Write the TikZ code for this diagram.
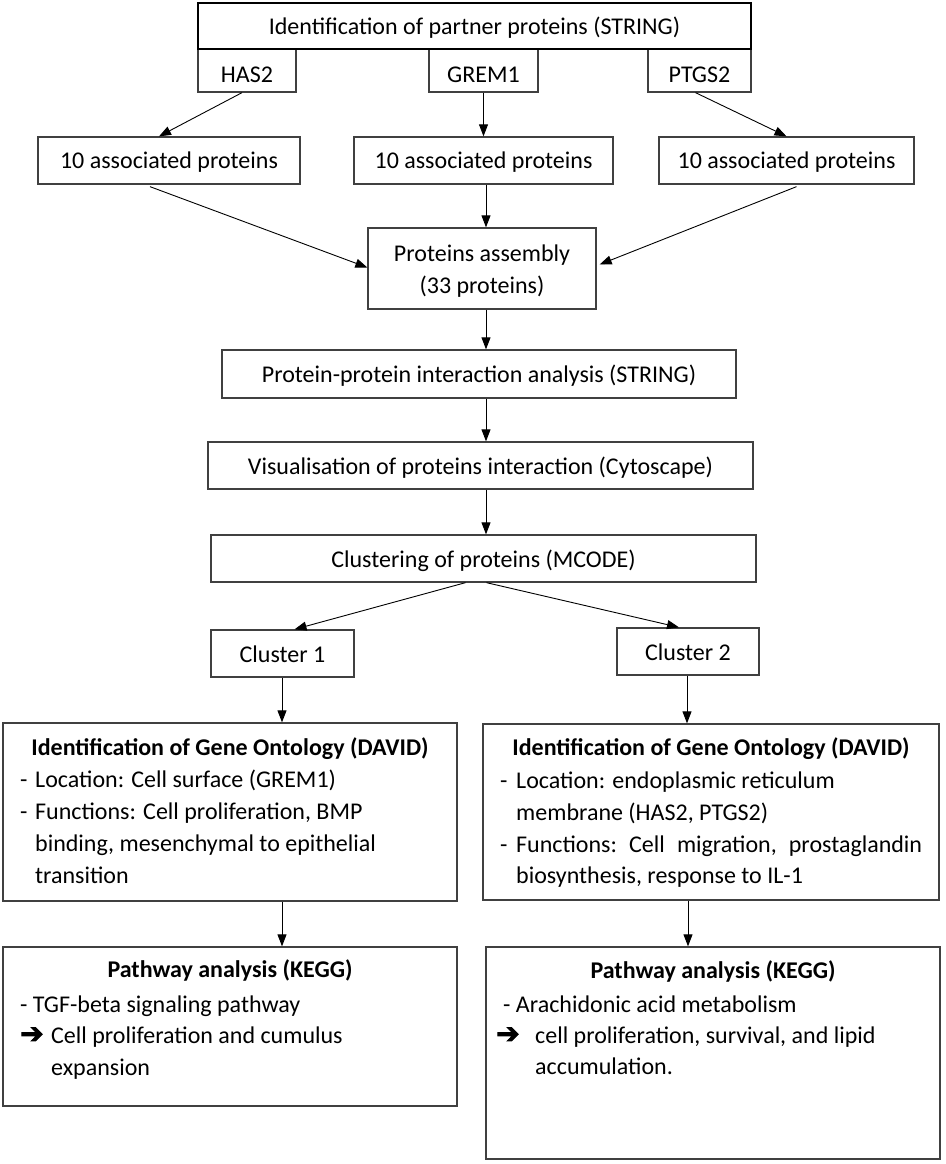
\documentclass[tikz,border=0pt]{standalone}
\usepackage{fontspec}
\setmainfont{Carlito}
\newfontfamily\symfont[FakeBold=3]{DejaVu Sans Bold}
\usetikzlibrary{calc,arrows.meta}
\begin{document}
\begin{tikzpicture}[x=1pt,y=-1pt,
  box/.style={draw=black!75, line width=1.3pt, inner sep=0pt, align=center,
    text height=17pt, text depth=0pt, font=\fontsize{24}{33}\selectfont},
  topbox/.style={box, draw=black, line width=2pt, text height=18pt},
  genebox/.style={box, text height=23pt},
  assoc/.style={box, text height=15pt},
  arr/.style={-{Triangle[length=12pt,width=9pt]}, line width=0.9pt, black},
  txt/.style={inner sep=0pt, anchor=base west, font=\fontsize{24}{31.5}\selectfont},
  ctxt/.style={inner sep=0pt, anchor=base, font=\fontsize{24}{31.5}\selectfont},
  ttl/.style={inner sep=0pt, anchor=base, font=\fontsize{24}{31.5}\selectfont\bfseries},
  sym/.style={inner sep=0pt, anchor=base west, font=\fontsize{28}{30}\selectfont\symfont}]
\useasboundingbox (0,0) rectangle (945,1164);

% top block
\node[genebox, minimum width=98pt, minimum height=43pt] (has2) at (247,70.5) {HAS2};
\node[genebox, minimum width=109pt, minimum height=43pt] (grem1) at (483.5,70.5) {GREM1};
\node[genebox, minimum width=103pt, minimum height=43pt] (ptgs2) at (699.5,70.5) {PTGS2};
\node[topbox, minimum width=553pt, minimum height=46pt] (top) at (474.5,26) {Identification of partner proteins (STRING)};

\node[assoc, minimum width=262pt, minimum height=47pt] (a1) at (169,160.5) {10 associated proteins};
\node[assoc, minimum width=259pt, minimum height=47pt] (a2) at (483.5,160.5) {10 associated proteins};
\node[assoc, minimum width=255pt, minimum height=47pt] (a3) at (786.5,160.5) {10 associated proteins};

\node[box, minimum width=228pt, minimum height=81pt] (asm) at (482,268.5) {};
\node[ctxt] (asm1) at (482,261) {Proteins assembly};
\node[ctxt] (asm2) at (482,293) {(33 proteins)};
\node[box, minimum width=514pt, minimum height=48pt] (ppi) at (479,374) {Protein-protein interaction analysis (STRING)};
\node[box, minimum width=545pt, minimum height=47pt] (vis) at (480.5,465.5) {Visualisation of proteins interaction (Cytoscape)};
\node[box, minimum width=545pt, minimum height=47pt] (clu) at (483.5,558.5) {Clustering of proteins (MCODE)};
\node[box, minimum width=143pt, minimum height=47pt] (c1) at (282.5,653.5) {Cluster 1};
\node[box, minimum width=142pt, minimum height=47pt] (c2) at (688,651.5) {Cluster 2};

\node[box, minimum width=454pt, minimum height=178pt] (d1) at (230,812) {};
\node[box, minimum width=456pt, minimum height=176pt] (d2) at (711,812) {};
\node[box, minimum width=454pt, minimum height=159pt] (k1) at (230,1026.5) {};
\node[box, minimum width=454pt, minimum height=212pt] (k2) at (713,1053) {};

% texts of d1
\node[ttl] (d1t) at (230,755) {Identification of Gene Ontology (DAVID)};
\node[txt] (d1a0) at (20,787) {-};
\node[txt] (d1a) at (35,787) {Location: Cell surface (GREM1)};
\node[txt] (d1b0) at (20,819) {-};
\node[txt] (d1b) at (35,819) {Functions: Cell proliferation, BMP};
\node[txt] (d1c) at (35,851) {binding, mesenchymal to epithelial};
\node[txt] (d1d) at (35,883) {transition};

% texts of d2
\node[ttl] (d2t) at (711,755) {Identification of Gene Ontology (DAVID)};
\node[txt] (d2a0) at (500,788) {-};
\node[txt] (d2a) at (516,788) {Location: endoplasmic reticulum};
\node[txt] (d2b) at (516,820) {membrane (HAS2, PTGS2)};
\node[txt] (d2c0) at (500,852) {-};
\node[txt] (d2c) at (516,852) {\hbox to 406pt{Functions:\hfill Cell\hfill migration,\hfill prostaglandin}};
\node[txt] (d2d) at (516,883) {biosynthesis, response to IL-1};

% texts of k1
\node[ttl] (k1t) at (230,977) {Pathway analysis (KEGG)};
\node[txt] (k1a) at (20,1012) {- TGF-beta signaling pathway};
\node[sym] (k1s) at (20,1043) {➔};
\node[txt] (k1b) at (51,1043) {Cell proliferation and cumulus};
\node[txt] (k1c) at (51,1075) {expansion};

% texts of k2
\node[ttl] (k2t) at (713,978) {Pathway analysis (KEGG)};
\node[txt] (k2a) at (503,1012) {- Arachidonic acid metabolism};
\node[sym] (k2s) at (496,1043) {➔};
\node[txt] (k2b) at (535,1043) {cell proliferation, survival, and lipid};
\node[txt] (k2c) at (535,1074) {accumulation.};

% connectors
\coordinate (spine) at (486,0);
\coordinate (lc) at (282,0);
\coordinate (rc) at (688,0);
\draw[arr] ($(has2.south)+(-5,0)$) -- ($(a1.north)+(-10,0)$);
\draw[arr] (grem1.south) -- (grem1.south |- a2.north);
\draw[arr] ($(ptgs2.south)+(-4,0)$) -- (a3.north);
\draw[arr] ($(a1.south)+(-19,2)$) -- ($(asm.west)+(0,-1)$);
\draw[arr] (spine |- a2.south) -- (spine |- asm.north);
\draw[arr] ($(a3.south)+(10,2)$) -- ($(asm.east)+(3,-4)$);
\draw[arr] (spine |- asm.south) -- (spine |- ppi.north);
\draw[arr] (spine |- ppi.south) -- (spine |- vis.north);
\draw[arr] (spine |- vis.south) -- (spine |- clu.north);
\draw[arr] ($(clu.south)+(-18,0)$) -- ($(c1.north)+(12,0)$);
\draw[arr] ($(clu.south)+(3,0)$) -- ($(c2.north)+(-9,0)$);
\draw[arr] (lc |- c1.south) -- (lc |- d1.north);
\draw[arr] ($(c2.south)+(-1,0)$) -- ($(c2.south |- d2.north)+(-1,0)$);
\draw[arr] (lc |- d1.south) -- (lc |- k1.north);
\draw[arr] (rc |- d2.south) -- (rc |- k2.north);
\end{tikzpicture}
\end{document}
